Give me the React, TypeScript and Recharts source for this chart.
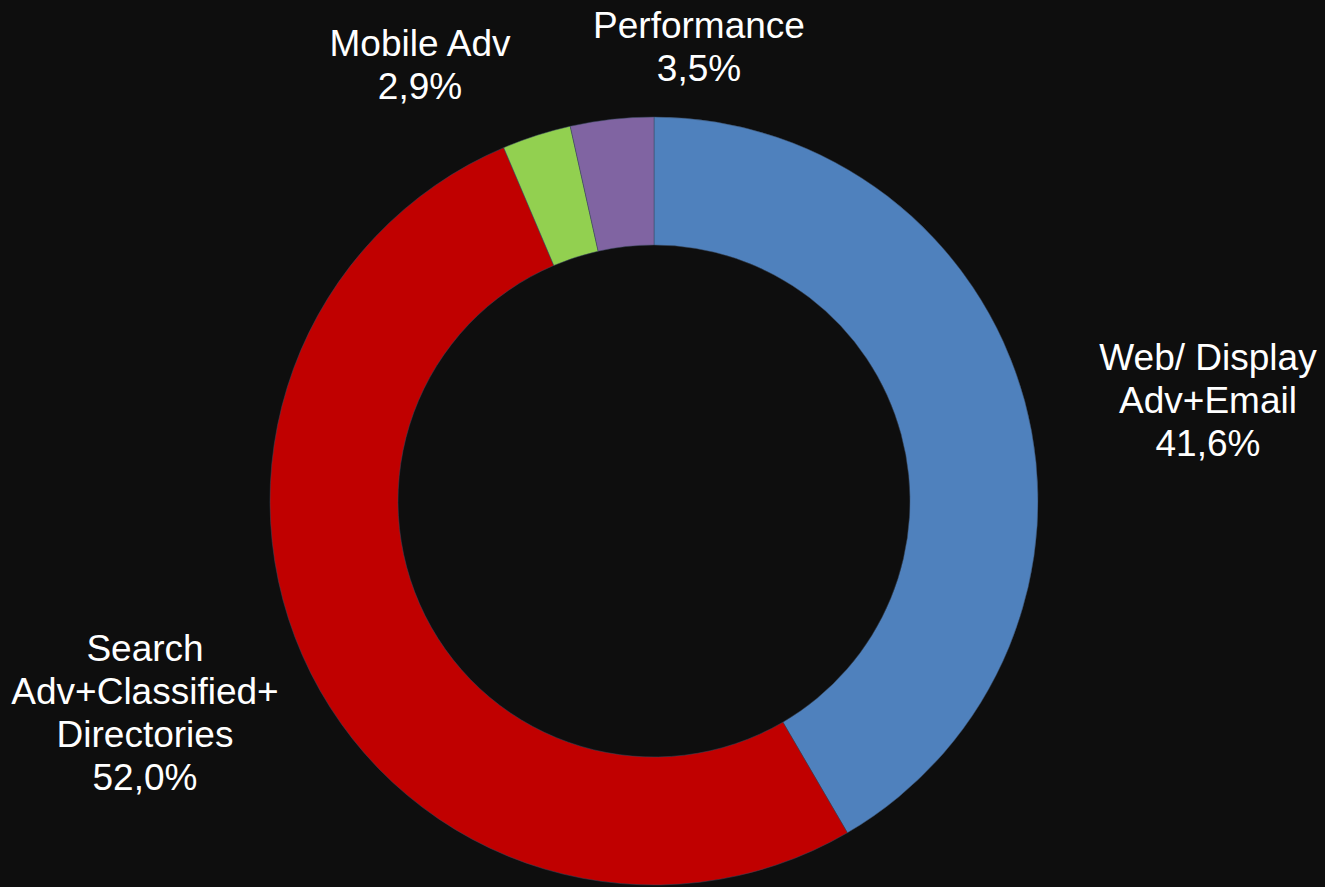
import React from 'react';
import { PieChart, Pie, Cell } from 'recharts';

// Segment names (as printed on the chart) and their shares in percent
const segments = ['Web/ Display\nAdv+Email', 'Search\nAdv+Classified+\nDirectories', 'Mobile Adv', 'Performance'];
const shares = [41.6, 52.0, 2.9, 3.5];
const colors = ['#4f81bd', '#c00000', '#92d050', '#8064a2'];

// where each label block sits, measured from the pie centre (first baseline)
const labelOffsets = [
  { dx: 554, dy: -131 },
  { dx: -509, dy: 160 },
  { dx: -234, dy: -445 },
  { dx: 45, dy: -463 }
];

const data = segments.map((name, i) => ({ name, value: shares[i] }));

const fmt = (v: number) => v.toFixed(1).replace('.', ',') + '%';

const renderLabel = (props: any) => {
  const { cx, cy, index, value, name } = props;
  const off = labelOffsets[index];
  const lines = [...String(name).split('\n'), fmt(value)];
  return (
    <text
      x={cx + off.dx}
      y={cy + off.dy}
      fill="#ffffff"
      textAnchor="middle"
      style={{ fontSize: 37, fontFamily: '"Liberation Sans", Arial, sans-serif' }}
    >
      {lines.map((l, i) => (
        <tspan key={i} x={cx + off.dx} dy={i === 0 ? 0 : 43}>
          {l}
        </tspan>
      ))}
    </text>
  );
};

const App: React.FC = () => {
  return (
    <div style={{ position: 'fixed', left: 0, top: 0, width: 1325, height: 887, background: '#0e0e0e' }}>
      <PieChart width={1325} height={887} margin={{ top: 0, right: 0, bottom: 0, left: 0 }}>
        <Pie
          data={data}
          dataKey="value"
          nameKey="name"
          cx={654}
          cy={501}
          innerRadius={256}
          outerRadius={384}
          startAngle={90}
          endAngle={-270}
          stroke="#3a4a60"
          strokeWidth={0.5}
          label={renderLabel}
          labelLine={false}
          isAnimationActive={false}
        >
          {data.map((d, i) => (
            <Cell key={d.name} fill={colors[i]} />
          ))}
        </Pie>
      </PieChart>
    </div>
  );
};

export default App;
